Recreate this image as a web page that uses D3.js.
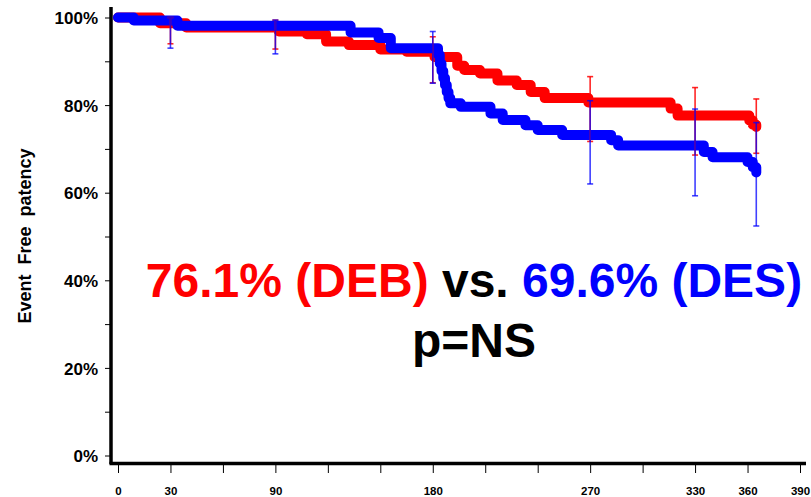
<!DOCTYPE html>
<html>
<head>
<meta charset="utf-8">
<script src="https://cdn.jsdelivr.net/npm/d3@7"></script>
<style>
  html, body { margin: 0; padding: 0; background: #fff; }
  svg { display: block; }
  text { font-family: "Liberation Sans", Arial, sans-serif; font-weight: bold; }
</style>
</head>
<body>
<svg id="chart" width="811" height="497"></svg>
<script>
// Kaplan-Meier event-free patency, days vs. percent
const debDays = [0, 24, 39, 92, 108, 119, 132, 150, 165, 181, 194, 198, 207, 217, 228, 236, 244, 269, 316, 320, 361, 363, 365];
const debSurv = [100, 98.7, 97.7, 96.8, 96.2, 94.5, 93.7, 92.7, 92.2, 91.0, 89.0, 88.0, 87.2, 85.6, 84.6, 83.0, 81.6, 80.6, 79.2, 77.6, 76.5, 75.5, 75.0];

const desDays = [0, 9, 34, 133, 149, 156, 183, 184, 185, 186, 187, 188, 189, 190, 196, 213, 220, 233, 240, 254, 282, 286, 335, 340, 360, 363, 365];
const desSurv = [100, 99.3, 98.1, 96.6, 95.3, 93.0, 91.5, 89.5, 87.8, 86.2, 84.6, 83.0, 81.6, 80.4, 79.6, 78.1, 76.6, 75.4, 74.3, 73.2, 72.0, 70.8, 69.3, 68.1, 67.0, 65.8, 64.6];

// 95% confidence intervals at follow-up points
const ciDays = [30, 90, 180, 270, 330, 365];
const debLo = [94.0, 92.8, 85.1, 71.7, 68.6, 69.0];
const debHi = [100, 99.4, 95.6, 86.5, 84.0, 81.4];
const desLo = [93.0, 91.7, 85.0, 62.0, 59.3, 52.4];
const desHi = [100, 99.4, 96.8, 81.0, 79.1, 76.0];

const xTicks = [0, 30, 60, 90, 120, 150, 180, 210, 240, 270, 300, 330, 360, 390];
const xTickLabels = [0, 30, 90, 180, 270, 330, 360, 390];
const yMajor = [0, 20, 40, 60, 80, 100];
const yMinor = [10, 30, 50, 70, 90];

const RED = "#ff0000", BLUE = "#0000ff";

const svg = d3.select("#chart");
const x = d3.scaleLinear().domain([0, 390]).range([118, 800]);
const y = d3.scaleLinear().domain([0, 100]).range([455.5, 17.5]);

// Y axis
const yAxisG = svg.append("g").attr("transform", "translate(111,0)");
yAxisG.call(d3.axisLeft(y).tickValues(yMajor).tickSize(6).tickFormat(d => d + "%"));
yAxisG.call(g => g.append("g").call(d3.axisLeft(y).tickValues(yMinor).tickSize(6).tickFormat("")));
yAxisG.selectAll(".domain").remove();
yAxisG.selectAll("text").attr("font-size", 17).attr("x", -13).attr("dy", "0.36em").attr("fill", "#000");
svg.append("line").attr("x1", 111).attr("x2", 111).attr("y1", 7).attr("y2", 464)
  .attr("stroke", "#000").attr("stroke-width", 3.5);

// X axis
const xAxisG = svg.append("g").attr("transform", "translate(0,464)");
xAxisG.call(d3.axisBottom(x).tickValues(xTicks).tickSize(9)
  .tickFormat(d => xTickLabels.includes(d) ? d : ""));
xAxisG.selectAll(".domain").remove();
xAxisG.selectAll("text").attr("font-size", 11.5).attr("y", 23).attr("fill", "#000");
svg.append("line").attr("x1", 109.5).attr("x2", 806).attr("y1", 463.5).attr("y2", 463.5)
  .attr("stroke", "#000").attr("stroke-width", 3.5);

// Axis title
svg.append("text")
  .attr("transform", "translate(31,236) rotate(-90)")
  .attr("text-anchor", "middle")
  .attr("font-size", 18)
  .attr("fill", "#000")
  .attr("xml:space", "preserve")
  .style("white-space", "pre")
  .text("Event  Free  patency");

// Survival curves
const line = d3.line().x(d => x(d[0])).y(d => y(d[1])).curve(d3.curveStepAfter);
function curve(days, surv, color) {
  svg.append("path")
    .datum(days.map((d, i) => [d, surv[i]]))
    .attr("d", line)
    .attr("fill", "none")
    .attr("stroke", color)
    .attr("stroke-width", 10)
    .attr("stroke-linejoin", "round")
    .attr("stroke-linecap", "round");
}
curve(debDays, debSurv, RED);
curve(desDays, desSurv, BLUE);

// Confidence interval bars
function bars(lo, hi, color, opacity) {
  const g = svg.append("g").attr("stroke", color).attr("stroke-opacity", opacity);
  ciDays.forEach((d, i) => {
    const cx = x(d);
    g.append("line").attr("x1", cx).attr("x2", cx).attr("y1", y(hi[i])).attr("y2", y(lo[i])).attr("stroke-width", 1.6);
    [lo[i], hi[i]].forEach(v => {
      g.append("line").attr("x1", cx - 3).attr("x2", cx + 3).attr("y1", y(v)).attr("y2", y(v)).attr("stroke-width", 1.6);
    });
  });
}
bars(debLo, debHi, RED, 0.85);
bars(desLo, desHi, BLUE, 0.75);

// Annotation
const ann = svg.append("text").attr("x", 474).attr("y", 297).attr("text-anchor", "middle").attr("font-size", 48);
ann.append("tspan").attr("fill", RED).text("76.1% (DEB)");
ann.append("tspan").attr("fill", "#000").text(" vs. ");
ann.append("tspan").attr("fill", BLUE).text("69.6% (DES)");
svg.append("text").attr("x", 474).attr("y", 357).attr("text-anchor", "middle")
  .attr("font-size", 48).attr("fill", "#000").text("p=NS");
</script>
</body>
</html>
